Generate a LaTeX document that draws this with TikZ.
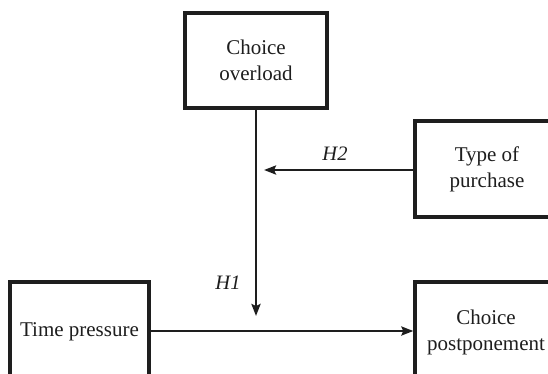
\documentclass[tikz,border=0pt]{standalone}
\usepackage{fontspec}
\setmainfont{Liberation Serif}
\usetikzlibrary{arrows.meta}
\definecolor{ink}{HTML}{1E1E1E}
\begin{document}
\begin{tikzpicture}[x=1pt,y=-1pt,
  box/.style={draw=ink, line width=3.3pt, inner sep=0pt, align=center,
    font=\fontsize{21}{26}\selectfont, text=ink},
  conn/.style={draw=ink, line width=2.8pt, -{Stealth[length=12pt,width=9pt,inset=2pt]}},
  lab/.style={font=\fontsize{20.5}{24}\selectfont\itshape, text=ink}]
\useasboundingbox (0,0) rectangle (548,373);
\clip (0,0) rectangle (548,373);
\fill[white] (0,0) rectangle (548,373);
\node[box, minimum width=142pt, minimum height=95pt] (co) at (256,60.5) {Choice\\overload};
\node[box, minimum width=144pt, minimum height=96pt] (tp) at (487,169) {Type of\\purchase};
\node[box, minimum width=139pt, minimum height=100pt] (tip) at (79.5,332) {Time pressure};
\node[box, minimum width=142pt, minimum height=100pt] (cp) at (486,332) {Choice\\postponement};
\coordinate (h1end) at (256,316);
\coordinate (h2end) at (264,170);
\draw[conn] (co.south) -- (h1end);
\draw[conn] (tp.west |- h2end) -- (h2end);
\draw[conn] (tip.east |- 0,331) -- (cp.west |- 0,331);
\node[lab] (h1) at (228,283) {H1};
\node[lab] (h2) at (335,154) {H2};
\end{tikzpicture}
\end{document}
